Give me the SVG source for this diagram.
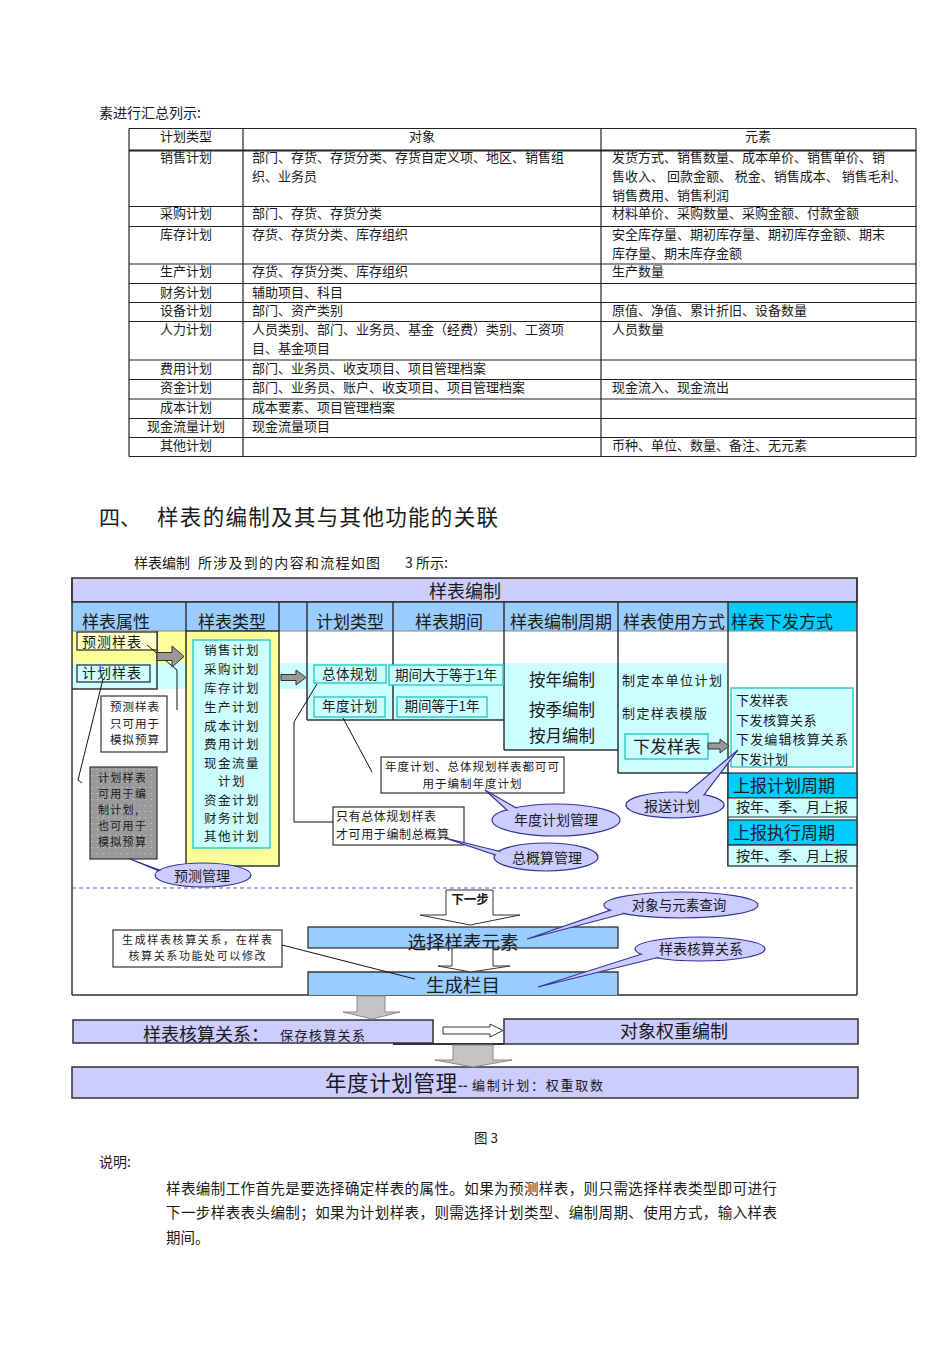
<svg xmlns="http://www.w3.org/2000/svg" width="950" height="1346" viewBox="0 0 950 1346">
<defs>
<style>
.f{font-family:"Noto Sans CJK SC","Noto Sans CJK JP",sans-serif;fill:#1a1a1a}
.c{text-anchor:middle}
.tb{font-size:13px}
.ln{stroke:#222;stroke-width:1.2;fill:none}
.bd{stroke:#333;stroke-width:1.5;fill:none}
.co{fill:#ccccff;stroke:#333399;stroke-width:1.2}
.cof{fill:#ccccff;stroke:none}
.conn{stroke:#111;stroke-width:1;fill:none}
.ga{fill:#999;stroke:#333;stroke-width:1}
.wa{fill:#fff;stroke:#333;stroke-width:1}
.la{fill:#c4c4c4;stroke:#888;stroke-width:1}
.cy{fill:#ccffff}
.cyb{fill:#ccffff;stroke:#33cccc;stroke-width:1.5}
.hb{fill:#99ccff}
.lav{fill:#ccccff;stroke:#333;stroke-width:1.5}
</style>
<pattern id="dots" width="6" height="6" patternUnits="userSpaceOnUse">
<rect width="6" height="6" fill="#9a9a9a"/>
<circle cx="1.5" cy="1.5" r="0.6" fill="#d8d8d8"/>
</pattern>
</defs>
<rect width="950" height="1346" fill="#fff"/>

<!-- page text above table -->
<text class="f" x="99" y="118" font-size="14">素进行汇总列示:</text>

<!-- table -->
<g id="table">
<g class="ln">
<line x1="129" y1="128.5" x2="916" y2="128.5"/>
<line x1="129" y1="150.5" x2="916" y2="150.5" stroke-width="1.8"/>
<line x1="129" y1="206.5" x2="916" y2="206.5"/>
<line x1="129" y1="226.5" x2="916" y2="226.5"/>
<line x1="129" y1="264" x2="916" y2="264"/>
<line x1="129" y1="283.5" x2="916" y2="283.5"/>
<line x1="129" y1="302.5" x2="916" y2="302.5"/>
<line x1="129" y1="321.5" x2="916" y2="321.5"/>
<line x1="129" y1="360" x2="916" y2="360"/>
<line x1="129" y1="379.5" x2="916" y2="379.5"/>
<line x1="129" y1="399" x2="916" y2="399"/>
<line x1="129" y1="418.5" x2="916" y2="418.5"/>
<line x1="129" y1="437.5" x2="916" y2="437.5"/>
<line x1="129" y1="456.5" x2="916" y2="456.5"/>
<line x1="129" y1="128.5" x2="129" y2="456.5"/>
<line x1="243" y1="128.5" x2="243" y2="456.5"/>
<line x1="601" y1="128.5" x2="601" y2="456.5"/>
<line x1="916" y1="128.5" x2="916" y2="456.5"/>
</g>
<g class="f tb">
<text class="c" x="186" y="141">计划类型</text>
<text class="c" x="422" y="141">对象</text>
<text class="c" x="758" y="141">元素</text>
<text class="c" x="186" y="162">销售计划</text>
<text class="c" x="186" y="218">采购计划</text>
<text class="c" x="186" y="239">库存计划</text>
<text class="c" x="186" y="276">生产计划</text>
<text class="c" x="186" y="297">财务计划</text>
<text class="c" x="186" y="315">设备计划</text>
<text class="c" x="186" y="334">人力计划</text>
<text class="c" x="186" y="373">费用计划</text>
<text class="c" x="186" y="392">资金计划</text>
<text class="c" x="186" y="412">成本计划</text>
<text class="c" x="186" y="431">现金流量计划</text>
<text class="c" x="186" y="450">其他计划</text>
<text x="252" y="162">部门、存货、存货分类、存货自定义项、地区、销售组</text>
<text x="252" y="181">织、业务员</text>
<text x="252" y="218">部门、存货、存货分类</text>
<text x="252" y="239">存货、存货分类、库存组织</text>
<text x="252" y="276">存货、存货分类、库存组织</text>
<text x="252" y="297">辅助项目、科目</text>
<text x="252" y="315">部门、资产类别</text>
<text x="252" y="334">人员类别、部门、业务员、基金（经费）类别、工资项</text>
<text x="252" y="353">目、基金项目</text>
<text x="252" y="373">部门、业务员、收支项目、项目管理档案</text>
<text x="252" y="392">部门、业务员、账户、收支项目、项目管理档案</text>
<text x="252" y="412">成本要素、项目管理档案</text>
<text x="252" y="431">现金流量项目</text>
<text x="612" y="162">发货方式、销售数量、成本单价、销售单价、销</text>
<text x="612" y="181">售收入、 回款金额、 税金、销售成本、 销售毛利、</text>
<text x="612" y="200">销售费用、销售利润</text>
<text x="612" y="218">材料单价、采购数量、采购金额、付款金额</text>
<text x="612" y="239">安全库存量、期初库存量、期初库存金额、期末</text>
<text x="612" y="257.5">库存量、期末库存金额</text>
<text x="612" y="276">生产数量</text>
<text x="612" y="315">原值、净值、累计折旧、设备数量</text>
<text x="612" y="334">人员数量</text>
<text x="612" y="392">现金流入、现金流出</text>
<text x="612" y="450">币种、单位、数量、备注、无元素</text>
</g>
</g>

<!-- heading -->
<text class="f" x="99" y="525" font-size="21">四、</text>
<text class="f" x="157" y="525" font-size="21.5" textLength="341">样表的编制及其与其他功能的关联</text>
<text class="f" x="134" y="568" font-size="14">样表编制</text>
<text class="f" x="198" y="568" font-size="14" textLength="182">所涉及到的内容和流程如图</text>
<text class="f" x="405" y="568" font-size="14">3 所示:</text>

<!-- diagram backgrounds -->
<g id="frame">
<rect x="72" y="578" width="785" height="24" class="lav"/>
<text class="f c" x="465" y="598" font-size="18">样表编制</text>
<rect x="72" y="602" width="656" height="29" class="hb"/>
<rect x="728" y="602" width="129" height="29" fill="#00ccff"/>
<rect x="72" y="631" width="114" height="32" fill="#ffff99"/>
<rect x="72" y="663" width="114" height="26" class="cy"/>
<rect x="279" y="663" width="28" height="26" class="cy"/>
<rect x="307" y="663" width="197" height="57" class="cy"/>
<rect x="504" y="663" width="114" height="87" class="cy"/>
<rect x="618" y="663" width="110" height="110" class="cy"/>
<line x1="72" y1="631" x2="857" y2="631" stroke="#888" stroke-width="1"/>
<g class="bd">
<line x1="72" y1="578" x2="72" y2="995"/>
<line x1="857" y1="578" x2="857" y2="995"/>
<line x1="72" y1="602" x2="857" y2="602"/>
<line x1="72" y1="995" x2="857" y2="995"/>
<line x1="186" y1="602" x2="186" y2="631"/>
<line x1="279" y1="602" x2="279" y2="631"/>
<line x1="307" y1="602" x2="307" y2="720"/>
<line x1="393" y1="602" x2="393" y2="720"/>
<line x1="307" y1="720" x2="504" y2="720"/>
<line x1="504" y1="602" x2="504" y2="750"/>
<line x1="504" y1="750" x2="618" y2="750"/>
<line x1="618" y1="602" x2="618" y2="773"/>
<line x1="618" y1="773" x2="728" y2="773"/>
<line x1="728" y1="602" x2="728" y2="866"/>
</g>
<g class="f c" font-size="17">
<text x="116" y="628">样表属性</text>
<text x="232" y="628">样表类型</text>
<text x="350" y="628">计划类型</text>
<text x="449" y="628">样表期间</text>
<text x="561" y="628">样表编制周期</text>
<text x="674" y="628">样表使用方式</text>
<text x="782" y="628">样表下发方式</text>
</g>
<line x1="72" y1="888" x2="857" y2="888" stroke="#6666aa" stroke-width="1.2" stroke-dasharray="4,3"/>
</g>

<!-- 样表属性 -->
<g id="node-attr">
<path d="M72 689 H157 V631" class="bd"/>
<rect x="77" y="632" width="80" height="18" fill="#ffffcc" stroke="#333" stroke-width="1.3"/>
<text class="f c" x="112" y="647" font-size="14" letter-spacing="1">预测样表</text>
<rect x="77" y="665" width="73" height="17" fill="#ccffff" stroke="#333" stroke-width="1.3"/>
<text class="f c" x="112" y="678" font-size="14" letter-spacing="1">计划样表</text>
</g>
<g id="node-note-forecast">
<rect x="101" y="696" width="66" height="56" fill="#fff" stroke="#333" stroke-width="1.2"/>
<g class="f c" font-size="11.5" letter-spacing="1">
<text x="135" y="711">预测样表</text>
<text x="135" y="727.5">只可用于</text>
<text x="135" y="744">模拟预算</text>
</g>
</g>
<g id="node-note-plan">
<rect x="90" y="767" width="67" height="92" fill="url(#dots)" stroke="#333" stroke-width="1.2"/>
<g class="f" font-size="11" letter-spacing="1.3">
<text x="98" y="781.5">计划样表</text>
<text x="98" y="797.5">可用于编</text>
<text x="98" y="813.5">制计划,</text>
<text x="98" y="829.5">也可用于</text>
<text x="98" y="845.5">模拟预算</text>
</g>
</g>

<!-- 样表类型 -->
<g id="node-type">
<rect x="186" y="631" width="93" height="235" fill="#ffff99" stroke="#333" stroke-width="1.5"/>
<rect x="193" y="640" width="77" height="208" class="cyb"/>
<g class="f c" font-size="12.5" letter-spacing="1.5">
<text x="232" y="655">销售计划</text>
<text x="232" y="674">采购计划</text>
<text x="232" y="693">库存计划</text>
<text x="232" y="712">生产计划</text>
<text x="232" y="730.5">成本计划</text>
<text x="232" y="749">费用计划</text>
<text x="232" y="767.5">现金流量</text>
<text x="232" y="786">计划</text>
<text x="232" y="804.5">资金计划</text>
<text x="232" y="822.5">财务计划</text>
<text x="232" y="840.5">其他计划</text>
</g>
</g>

<!-- 计划类型 / 期间 -->
<g id="node-plantype">
<rect x="314" y="665" width="72" height="18" class="cyb"/>
<text class="f c" x="350" y="679" font-size="13.5" letter-spacing="0.5">总体规划</text>
<rect x="314" y="697" width="71" height="20" class="cyb"/>
<text class="f c" x="350" y="711" font-size="13.5" letter-spacing="0.5">年度计划</text>
</g>
<g id="node-period">
<rect x="389" y="665" width="114" height="20" class="cyb"/>
<text class="f c" x="446" y="680" font-size="13.5">期间大于等于1年</text>
<rect x="397" y="697" width="90" height="20" class="cyb"/>
<text class="f c" x="442" y="711" font-size="13.5">期间等于1年</text>
</g>
<g id="node-cycle">
<g class="f c" font-size="16.5">
<text x="562" y="686">按年编制</text>
<text x="562" y="716">按季编制</text>
<text x="562" y="742">按月编制</text>
</g>
</g>
<g id="node-usage">
<text class="f" x="622" y="685" font-size="13" textLength="100">制定本单位计划</text>
<text class="f" x="622" y="718" font-size="13" textLength="85">制定样表模版</text>
<rect x="625" y="734" width="83" height="25" class="cyb"/>
<text class="f c" x="667" y="753" font-size="17">下发样表</text>
</g>
<g id="node-issue">
<rect x="731" y="688" width="122" height="79" class="cyb"/>
<g class="f" font-size="13">
<text x="736" y="705">下发样表</text>
<text x="736" y="724.5" letter-spacing="0.5">下发核算关系</text>
<text x="736" y="744" textLength="112">下发编辑核算关系</text>
<text x="736" y="763.5">下发计划</text>
</g>
</g>
<g id="node-report">
<rect x="728" y="773" width="129" height="25" fill="#00ccff" stroke="#333" stroke-width="1.3"/>
<text class="f" x="733" y="792" font-size="17">上报计划周期</text>
<rect x="728" y="798" width="129" height="19" fill="#ccffff" stroke="#333" stroke-width="1"/>
<text class="f" x="736" y="812" font-size="14">按年、季、月上报</text>
<rect x="728" y="820" width="129" height="25" fill="#00ccff" stroke="#333" stroke-width="1.3"/>
<text class="f" x="733" y="839" font-size="17">上报执行周期</text>
<rect x="728" y="845" width="129" height="21" fill="#ccffff" stroke="#333" stroke-width="1.3"/>
<text class="f" x="736" y="861" font-size="14">按年、季、月上报</text>
</g>

<!-- notes -->
<g id="node-note-annual">
<rect x="381" y="757" width="183" height="36" fill="#fff" stroke="#333" stroke-width="1.2"/>
<text class="f c" x="472" y="770.5" font-size="11.5" textLength="174">年度计划、总体规划样表都可可</text>
<text class="f c" x="472" y="787.5" font-size="11.5" textLength="99">用于编制年度计划</text>
</g>
<g id="node-note-total">
<rect x="333" y="807" width="131" height="38" fill="#fff" stroke="#333" stroke-width="1.2"/>
<text class="f" x="336" y="821" font-size="12" textLength="100">只有总体规划样表</text>
<text class="f" x="336" y="839" font-size="12" textLength="113">才可用于编制总概算</text>
</g>

<!-- lower section -->
<g id="node-select">
<rect x="308" y="927" width="310" height="21" fill="#99ccff" stroke="#333" stroke-width="1.3"/>
<text class="f c" x="463" y="949" font-size="18.5">选择样表元素</text>
</g>
<g id="node-generate">
<path d="M308 995 V972 H618 V995" fill="#99ccff" stroke="#333" stroke-width="1.3"/>
<text class="f c" x="463" y="992" font-size="18.5">生成栏目</text>
</g>
<g id="node-note-gen">
<rect x="113" y="930" width="169" height="37" fill="#fff" stroke="#333" stroke-width="1.2"/>
<text class="f c" x="197" y="944" font-size="11" textLength="150">生成样表核算关系，在样表</text>
<text class="f c" x="197" y="960" font-size="11" textLength="137">核算关系功能处可以修改</text>
</g>
<g id="node-relation">
<rect x="73" y="1020" width="360" height="23" class="lav"/>
<text class="f" x="143" y="1041" font-size="18">样表核算关系：</text>
<text class="f" x="280" y="1040" font-size="13" textLength="85">保存核算关系</text>
</g>
<line x1="393" y1="1044" x2="504" y2="1044" stroke="#333" stroke-width="2"/>
<g id="node-weight">
<rect x="504" y="1019" width="354" height="25" class="lav"/>
<text class="f c" x="674" y="1038" font-size="18">对象权重编制</text>
</g>
<g id="node-annual-mgmt">
<rect x="72" y="1067" width="786" height="31" class="lav"/>
<text class="f" x="325" y="1091" font-size="21.5" textLength="132">年度计划管理</text>
<text class="f" x="458" y="1090" font-size="13" font-weight="bold">--</text>
<text class="f" x="472" y="1090" font-size="13" textLength="131">编制计划：权重取数</text>
</g>

<!-- callouts -->
<g id="callout-forecast">
<ellipse class="co" cx="203" cy="875" rx="48" ry="12"/>
<path class="co" d="M130 859 L162 871 L176 878 Z"/>
<ellipse class="cof" cx="203" cy="875" rx="46.8" ry="10.8"/>
<text class="f c" x="202" y="880.5" font-size="14" fill="#333">预测管理</text>
</g>
<g id="callout-annual">
<ellipse class="co" cx="556" cy="820" rx="64" ry="16"/>
<path class="co" d="M485 790 L508 811 L525 813 Z"/>
<ellipse class="cof" cx="556" cy="820" rx="62.8" ry="14.8"/>
<text class="f c" x="556" y="824.5" font-size="14" fill="#333">年度计划管理</text>
</g>
<g id="callout-total">
<ellipse class="co" cx="546" cy="857" rx="52" ry="14"/>
<path class="co" d="M445 838 L502 852 L510 860 Z"/>
<ellipse class="cof" cx="546" cy="857" rx="50.8" ry="12.8"/>
<text class="f c" x="547" y="863" font-size="14" fill="#333">总概算管理</text>
</g>
<g id="callout-report">
<ellipse class="co" cx="675" cy="805" rx="49" ry="13"/>
<path class="co" d="M738 750 L682 797 L700 800 Z"/>
<ellipse class="cof" cx="675" cy="805" rx="47.8" ry="11.8"/>
<text class="f c" x="672" y="810.5" font-size="14" fill="#333">报送计划</text>
</g>
<g id="callout-query">
<ellipse class="co" cx="681" cy="905" rx="77" ry="13"/>
<path class="co" d="M527 939 L614 909 L626 913 Z"/>
<ellipse class="cof" cx="681" cy="905" rx="75.8" ry="11.8"/>
<text class="f c" x="679" y="909.5" font-size="13.5" fill="#333">对象与元素查询</text>
</g>
<g id="callout-relation">
<ellipse class="co" cx="700" cy="949" rx="65" ry="12"/>
<path class="co" d="M538 987 L645 953 L660 957 Z"/>
<ellipse class="cof" cx="700" cy="949" rx="63.8" ry="10.8"/>
<text class="f c" x="701" y="954" font-size="14" fill="#333">样表核算关系</text>
</g>

<!-- connectors -->
<g id="connectors">
<polyline class="conn" points="147,645 177,670 177,710"/>
<polyline class="conn" points="103,679 78,780 82,783"/>
<polyline class="conn" points="317,684 294,722 294,822 333,822"/>
<line class="conn" x1="343" y1="718" x2="372" y2="772"/>
<line class="conn" x1="282" y1="945" x2="415" y2="979"/>
<polygon class="ga" points="157,652.5 172,652.5 172,646 184,656.5 172,667 172,660.5 157,660.5"/>
<polygon class="ga" points="281,674.5 296,674.5 296,670 306,677.5 296,685 296,680.5 281,680.5"/>
<polygon class="ga" points="708,743 720,743 720,739 729,746 720,753 720,749 708,749"/>
<polygon class="wa" points="446,890 493,890 493,915 520,915 470,925 420,915 446,915"/>
<text class="f c" x="470" y="904" font-size="12.5" font-weight="bold">下一步</text>
<polygon class="wa" points="452,948 493,948 493,966 510,966 471,972 438,966 452,966"/>
<polygon class="la" points="357,996 385,996 385,1012 400,1012 372,1019 343,1012 357,1012"/>
<polygon class="wa" points="443,1027 490,1027 490,1024 503,1030.5 490,1037 490,1034 443,1034"/>
<polygon class="la" points="453,1045 493,1045 493,1060 512,1060 473,1067 435,1060 453,1060"/>
</g>

<!-- caption and text -->
<text class="f" x="474" y="1143" font-size="13.5">图 3</text>
<text class="f" x="99" y="1167" font-size="14">说明:</text>
<text class="f" x="166" y="1194" font-size="14.5" textLength="611">样表编制工作首先是要选择确定样表的属性。如果为预测样表，则只需选择样表类型即可进行</text>
<text class="f" x="166" y="1218" font-size="14.5" textLength="611">下一步样表表头编制；如果为计划样表，则需选择计划类型、编制周期、使用方式，输入样表</text>
<text class="f" x="166" y="1243" font-size="14.5">期间。</text>
</svg>
